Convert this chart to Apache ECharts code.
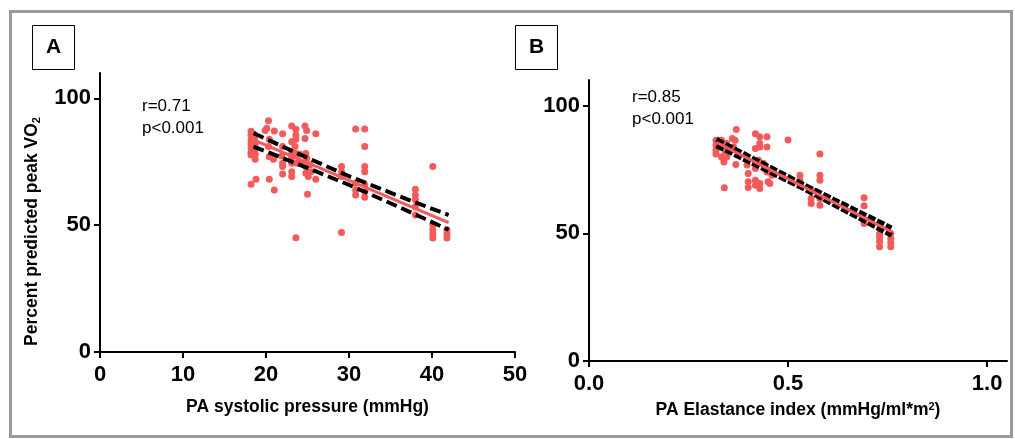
<!DOCTYPE html>
<html>
<head>
<meta charset="utf-8">
<script src="https://cdn.jsdelivr.net/npm/echarts@6/dist/echarts.min.js"></script>
<style>
html,body{margin:0;padding:0;background:#fff;}
#chart{width:1015px;height:439px;}
</style>
</head>
<body>
<div id="chart"></div>
<script>
// ---------- Panel A data: PA systolic pressure (mmHg) vs % predicted peak VO2 ----------
const pasX = [18.2,18.2,18.2,18.2,18.2,18.2,18.2,18.2,
  18.5,18.6,18.7,18.7,18.7,18.7,18.8,
  19.9,20.1,20.3,21.0,20.4,20.3,20.4,20.9,20.4,21.0,
  22.0,22.0,21.9,22.0,22.0,22.0,
  23.1,23.1,23.1,23.1,23.1,23.1,23.1,23.6,
  23.6,23.6,23.6,23.5,23.6,23.7,
  24.1,24.2,
  24.7,24.9,24.7,24.8,24.9,24.8,24.8,25.1,25.0,25.3,25.4,
  26.0,26.0,
  29.1,29.1,29.1,29.1,
  30.8,30.8,30.8,30.8,
  31.9,31.9,31.9,31.9,31.9,31.9,31.9,
  38.0,38.0,38.0,38.0,38.0,
  40.1,40.1,40.1,40.1,40.1,
  41.8,41.8,41.8];
const pasVO2 = [87,85.6,83.6,82,80.3,78.6,77.7,66.1,
  86,84,82,80,78,76,68.1,
  87.3,88.2,91.2,87.1,83.9,81,77,76,68.1,63.9,
  86,81,77.3,74.4,73.1,70.2,
  89.1,82.9,79,76.8,74.4,71.1,69.2,45,
  87.8,85.6,83.9,81,78.3,74.4,
  78,74.4,
  89.1,87.3,84.2,78.3,76.4,73.1,70.5,69.2,62.2,73.8,71.1,
  86,68.1,
  73.1,71.1,69.2,47.1,
  87.9,66.5,63.9,61.9,
  87.9,81,73.1,71.1,65.9,63.3,61,
  64.2,61.9,60,57.3,54,
  73.1,50.1,48.2,46.5,44.9,
  48.2,46.6,44.9];
// regression line and 95% band
const fitAX = [18.5, 42];
const fitAY = [83.6, 51.0];
const bandAX = [18.5, 24, 30, 36, 42];
const bandAUpper = [86.3, 78.0, 69.3, 61.5, 54.0];
const bandALower = [81.0, 73.9, 65.9, 57.2, 48.2];

// ---------- Panel B data: PA Elastance index vs % predicted peak VO2 ----------
const eaX = [0.319,0.325,0.333,0.319,0.319,0.319,0.329,0.333,0.339,0.346,0.346,0.342,
  0.360,0.370,0.363,0.369,0.367,
  0.400,0.400,0.400,0.397,
  0.418,0.418,0.418,0.418,0.418,0.418,
  0.429,0.429,0.429,0.429,0.429,0.426,
  0.447,0.447,0.439,0.447,0.450,0.454,0.460,0.443,
  0.340,
  0.500,
  0.530,0.530,0.530,
  0.558,0.558,0.558,
  0.580,0.580,0.580,0.580,0.580,
  0.691,0.691,0.691,0.691,
  0.730,0.730,0.730,0.730,
  0.758,0.758,0.758,0.758];
const eaVO2 = [86.4,86.4,86.4,84.5,82.5,81,83.8,79.9,77.9,79.9,85.1,82,
  87.1,90.6,83.8,76.9,86.4,
  73.4,70.2,67.9,76.7,
  89,83.2,77.3,75.4,70.8,68.8,
  87.8,85.1,83.8,69.5,67.5,78.6,
  87.8,83.8,77.3,74,70.2,69.5,72.7,75.8,
  67.8,
  86.5,
  72.7,70.8,68.8,
  66.9,63.6,61.7,
  81,72.7,70.8,63.6,61,
  63.9,60.8,55.4,53.8,
  49.9,48.4,46.7,44.7,
  49.9,48,46.3,44.7];
const fitBX = [0.32, 0.76];
const fitBY = [85.6, 50.6];
const bandBX = [0.32, 0.54, 0.76];
const bandBUpper = [86.7, 69.0, 52.1];
const bandBLower = [84.3, 67.4, 49.2];

// tick labels
const yTicks = [0, 50, 100];
const xTicksA = [0, 10, 20, 30, 40, 50];
const xTicksB = [0, 0.5, 1.0];

const stats = {A: ['r=0.71', 'p<0.001'], B: ['r=0.85', 'p<0.001']};

const zip = (xs, ys) => xs.map((x, i) => [x, ys[i]]);

const FONT = '"Liberation Sans", Arial, Helvetica, sans-serif';
const PT = '#f35a5a';

function xAxis(grid, max, ticks, name, gap, fmt) {
  return {
    type: 'value', gridIndex: grid, min: 0, max: max,
    name: name, nameLocation: 'middle', nameGap: gap,
    nameTextStyle: {fontFamily: FONT, fontSize: 17.5, fontWeight: 'bold', color: '#000',
      rich: {sup: {fontFamily: FONT, fontSize: 11, fontWeight: 'bold', verticalAlign: 'top', padding: [0,0,8,0]}}},
    axisLine: {show: true, onZero: false, lineStyle: {color: '#000', width: 2}},
    axisTick: {show: true, customValues: ticks, length: 6, lineStyle: {color: '#000', width: 2}},
    axisLabel: {customValues: ticks, margin: 12, fontFamily: FONT, fontSize: 22, fontWeight: 'bold', color: '#000', formatter: fmt},
    splitLine: {show: false}
  };
}
function yAxis(grid, name) {
  return {
    type: 'value', gridIndex: grid, min: 0, max: 110,
    name: name, nameLocation: 'middle', nameGap: 58,
    nameTextStyle: {fontFamily: FONT, fontSize: 17.5, fontWeight: 'bold', color: '#000', padding: [0, 38, 0, 0],
      rich: {sub: {fontFamily: FONT, fontSize: 11, fontWeight: 'bold', verticalAlign: 'bottom', padding: [8,0,0,0]}}},
    axisLine: {show: true, onZero: false, lineStyle: {color: '#000', width: 2}},
    axisTick: {show: true, customValues: yTicks, length: 6, lineStyle: {color: '#000', width: 2}},
    axisLabel: {customValues: yTicks, margin: 9, fontFamily: FONT, fontSize: 22, fontWeight: 'bold', color: '#000'},
    splitLine: {show: false}
  };
}

function panelSeries(idx, px, py, fx, fy, bx, bu, bl, dash, dashW) {
  return [
    {type: 'scatter', xAxisIndex: idx, yAxisIndex: idx, data: zip(px, py), symbolSize: 7,
      itemStyle: {color: PT, opacity: 1}, z: 2, silent: true},
    {type: 'line', xAxisIndex: idx, yAxisIndex: idx, data: zip(bx, bu), showSymbol: false, symbol: 'none',
      lineStyle: {color: '#000', width: dashW, type: dash}, z: 3, silent: true},
    {type: 'line', xAxisIndex: idx, yAxisIndex: idx, data: zip(bx, bl), showSymbol: false, symbol: 'none',
      lineStyle: {color: '#000', width: dashW, type: dash}, z: 3, silent: true},
    {type: 'line', xAxisIndex: idx, yAxisIndex: idx, data: zip(fx, fy), showSymbol: false, symbol: 'none',
      lineStyle: {color: PT, width: 3}, z: 4, silent: true}
  ];
}

function statText(x, y, lines) {
  return {type: 'text', left: x, top: y, silent: true,
    style: {text: lines.join('\n'), fontFamily: FONT, fontSize: 17, lineHeight: 22, fill: '#000'}};
}
function letterBox(x, letter) {
  return {type: 'group', left: x, top: 25, silent: true, children: [
    {type: 'rect', shape: {x: 0, y: 0, width: 42, height: 44}, style: {fill: '#fff', stroke: '#000', lineWidth: 1}},
    {type: 'text', x: 21, y: 22, style: {text: letter, fontFamily: FONT, fontSize: 21, fontWeight: 'bold', fill: '#000', align: 'center', verticalAlign: 'middle'}}
  ]};
}

const chart = echarts.init(document.getElementById('chart'), null, {renderer: 'canvas'});
chart.setOption({
  animation: false,
  backgroundColor: '#fff',
  grid: [
    {left: 100, top: 73, width: 415, height: 279},
    {left: 589, top: 80, width: 418, height: 281}
  ],
  xAxis: [
    xAxis(0, 50, xTicksA, 'PA systolic pressure (mmHg)', 46, v => String(v)),
    xAxis(1, 1.05, xTicksB, 'PA Elastance index (mmHg/ml*m{sup|2})', 40, v => v.toFixed(1))
  ],
  yAxis: [
    yAxis(0, 'Percent predicted peak VO{sub|2}'),
    yAxis(1, '')
  ],
  series: [
    ...panelSeries(0, pasX, pasVO2, fitAX, fitAY, bandAX, bandAUpper, bandALower, [11, 5], 4),
    ...panelSeries(1, eaX, eaVO2, fitBX, fitBY, bandBX, bandBUpper, bandBLower, [8, 2], 5)
  ],
  graphic: [
    {type: 'rect', left: 8, top: 9, silent: true, shape: {x: 0, y: 0, width: 1001, height: 425},
      style: {fill: 'none', stroke: '#9a9a9a', lineWidth: 3}},
    letterBox(32, 'A'),
    letterBox(515, 'B'),
    statText(142, 95, stats.A),
    statText(632, 86, stats.B)
  ]
});
</script>
</body>
</html>
